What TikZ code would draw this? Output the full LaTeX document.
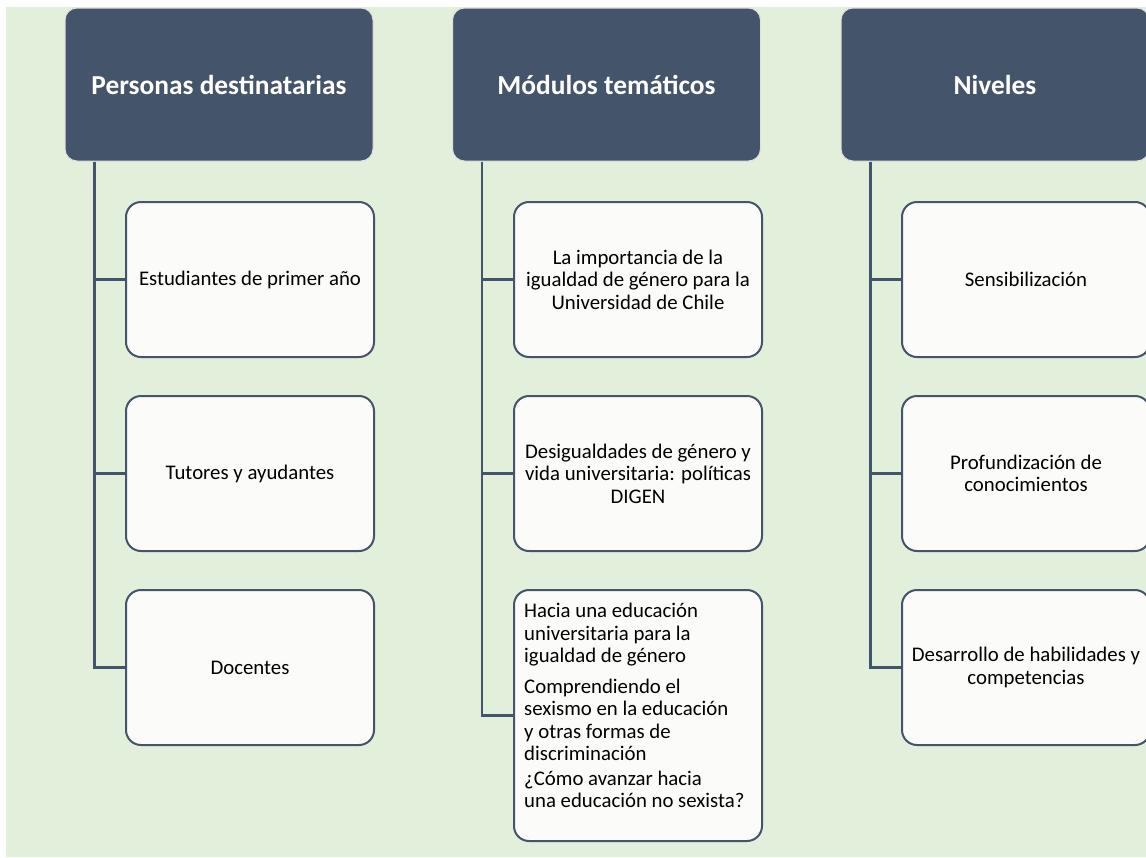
\documentclass[tikz,border=0pt]{standalone}
\usepackage{fontspec}
\setmainfont{Carlito}
\usetikzlibrary{calc}
\definecolor{bggreen}{HTML}{E2EFDA}
\definecolor{slate}{HTML}{44546A}
\definecolor{boxfill}{HTML}{FBFBFA}
\begin{document}
\begin{tikzpicture}[x=1pt,y=-1pt,
  header/.style={fill=slate, draw=black!12, line width=1pt, rounded corners=12pt,
    minimum width=308pt, minimum height=153pt, inner sep=0pt,
    text=white, font=\fontsize{27.4}{32}\selectfont\bfseries},
  item/.style={fill=boxfill, draw=slate, line width=2pt, rounded corners=15pt,
    minimum width=248pt, minimum height=155pt, inner sep=0pt,
    align=center, font=\fontsize{20.8}{22.5}\selectfont},
  link/.style={draw=slate, line width=2.5pt}]
\useasboundingbox (0,0) rectangle (1146,857);
\fill[bggreen] (6,7) rectangle (1146,857);

% column headers
\node[header] (h1) at (219,84.5) {Personas destinatarias};
\node[header] (h2) at (606.5,84.5) {Módulos temáticos};
\node[header] (h3) at (995,84.5) {Niveles};

% trunk start points below each header
\coordinate (t1) at ($(h1.south west)+(30,0)$);
\coordinate (t2) at ($(h2.south west)+(30,0)$);
\coordinate (t3) at ($(h3.south west)+(30,0)$);

% first column
\node[item] (a1) at (250,279.5) {Estudiantes de primer año};
\node[item] (a2) at (250,473.5) {Tutores y ayudantes};
\node[item] (a3) at (250,667.5) {Docentes};

% second column
\node[item] (b1) at (638,279.5) {La importancia de la\\igualdad de género para la\\Universidad de Chile};
\node[item] (b2) at (638,473.5) {Desigualdades de género y\\vida universitaria: políticas\\DIGEN};
\node[item, minimum height=251pt] (b3) at (638,715.5) {};
\node[anchor=north west, inner sep=0pt, align=left,
  font=\fontsize{20.8}{22.5}\selectfont] (b3t) at (524,603)
  {Hacia una educación\\universitaria para la\\igualdad de género\\[8pt]
   Comprendiendo el\\sexismo en la educación\\y otras formas de\\discriminación\\[2pt]
   ¿Cómo avanzar hacia\\una educación no sexista?};

% third column
\node[item] (c1) at (1026,279.5) {Sensibilización};
\node[item] (c2) at (1026,473.5) {Profundización de\\conocimientos};
\node[item] (c3) at (1026,667.5) {Desarrollo de habilidades y\\competencias};

% connectors
\foreach \t/\c in {t1/a1,t1/a2,t1/a3,t2/b1,t2/b2,t2/b3,t3/c1,t3/c2,t3/c3}
  \draw[link] (\t) |- (\c.west);
\end{tikzpicture}
\end{document}
